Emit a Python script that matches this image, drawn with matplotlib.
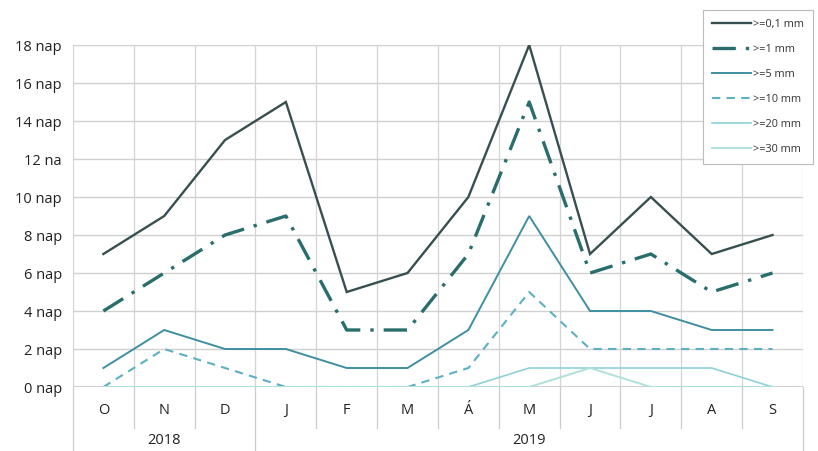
import matplotlib.pyplot as plt
from matplotlib.lines import Line2D
import matplotlib.transforms as mtransforms

months = ["O", "N", "D", "J", "F", "M", "Á", "M", "J", "J", "A", "S"]
years = ["2018", "2019"]
year_spans = [(0, 3), (3, 12)]

y_ticks = [0, 2, 4, 6, 8, 10, 12, 14, 16, 18]
y_labels = ["0 nap", "2 nap", "4 nap", "6 nap", "8 nap", "10 nap",
            "12 na", "14 nap", "16 nap", "18 nap"]

names = [">=0,1 mm", ">=1 mm", ">=5 mm", ">=10 mm", ">=20 mm", ">=30 mm"]
d01 = [7, 9, 13, 15, 5, 6, 10, 18, 7, 10, 7, 8]
d1 = [4, 6, 8, 9, 3, 3, 7, 15, 6, 7, 5, 6]
d5 = [1, 3, 2, 2, 1, 1, 3, 9, 4, 4, 3, 3]
d10 = [0, 2, 1, 0, 0, 0, 1, 5, 2, 2, 2, 2]
d20 = [0, 0, 0, 0, 0, 0, 0, 1, 1, 1, 1, 0]
d30 = [0, 0, 0, 0, 0, 0, 0, 0, 1, 0, 0, 0]

series = [d01, d1, d5, d10, d20, d30]
colors = ["#37504f", "#2a6d6d", "#3f8fa0", "#5db0c2", "#8fd0d8", "#b0e0da"]
widths = [1.7, 2.4, 1.4, 1.5, 1.2, 1.4]
styles = ["-", (0, (7, 3, 1, 3)), "-", (0, (4, 3)), "-", "-"]

plt.rcParams['font.family'] = ['Open Sans', 'DejaVu Sans']

fig = plt.figure(figsize=(8.18, 4.51), dpi=100)
ax = fig.add_axes([0.0892, 0.1419, 0.8924, 0.7583])

n = len(months)
x = [i + 0.5 for i in range(n)]
ax.set_xlim(0, n)
ax.set_ylim(0, 18)

# grid: horizontal at ticks, vertical at band edges
for yv in y_ticks:
    ax.axhline(yv, color="#d0d0d0", lw=1.0 if yv else 2.2, zorder=0)
for i in range(n + 1):
    ax.axvline(i, color="#d4d4d4", lw=0.9, zorder=0)

for vals, c, w, s, name in zip(series, colors, widths, styles, names):
    ax.plot(x, vals, color=c, lw=w, linestyle=s, label=name,
            solid_joinstyle="miter", zorder=3)

for sp in ax.spines.values():
    sp.set_visible(False)
ax.set_xticks([])
ax.set_yticks(y_ticks)
ax.set_yticklabels(y_labels, fontsize=10.5, color="#222222")
ax.tick_params(axis="y", length=0, pad=8)

# category axis below the plot
trans = mtransforms.blended_transform_factory(ax.transData, ax.transAxes)
for i, m in enumerate(months):
    ax.text(i + 0.5, -0.07, m, transform=trans, ha="center", va="center",
            fontsize=10.5, color="#222222")
for i in range(n + 1):
    long_tick = i in (0, 3, n)
    ax.plot([i, i], [0, -0.2 if long_tick else -0.12], transform=trans,
            color="#cccccc", lw=0.9, clip_on=False)
for yr, (a, b) in zip(years, year_spans):
    ax.text((a + b) / 2, -0.155, yr, transform=trans, ha="center",
            va="center", fontsize=10.5, color="#222222")

handles = [Line2D([0], [0], color=c, lw=w, linestyle=s)
           for c, w, s in zip(colors, widths, styles)]
leg = fig.legend(handles, names, loc="upper left",
                 bbox_to_anchor=(703 / 818, 1 - 10 / 451),
                 frameon=True, fancybox=False, fontsize=7.8,
                 handlelength=3.6, handletextpad=0.25, labelspacing=1.3,
                 borderpad=0.8, borderaxespad=0, framealpha=1,
                 labelcolor="#333333")
leg.get_frame().set_edgecolor("#bbbbbb")
leg.get_frame().set_linewidth(0.8)

fig.savefig("out.png", dpi=100)
